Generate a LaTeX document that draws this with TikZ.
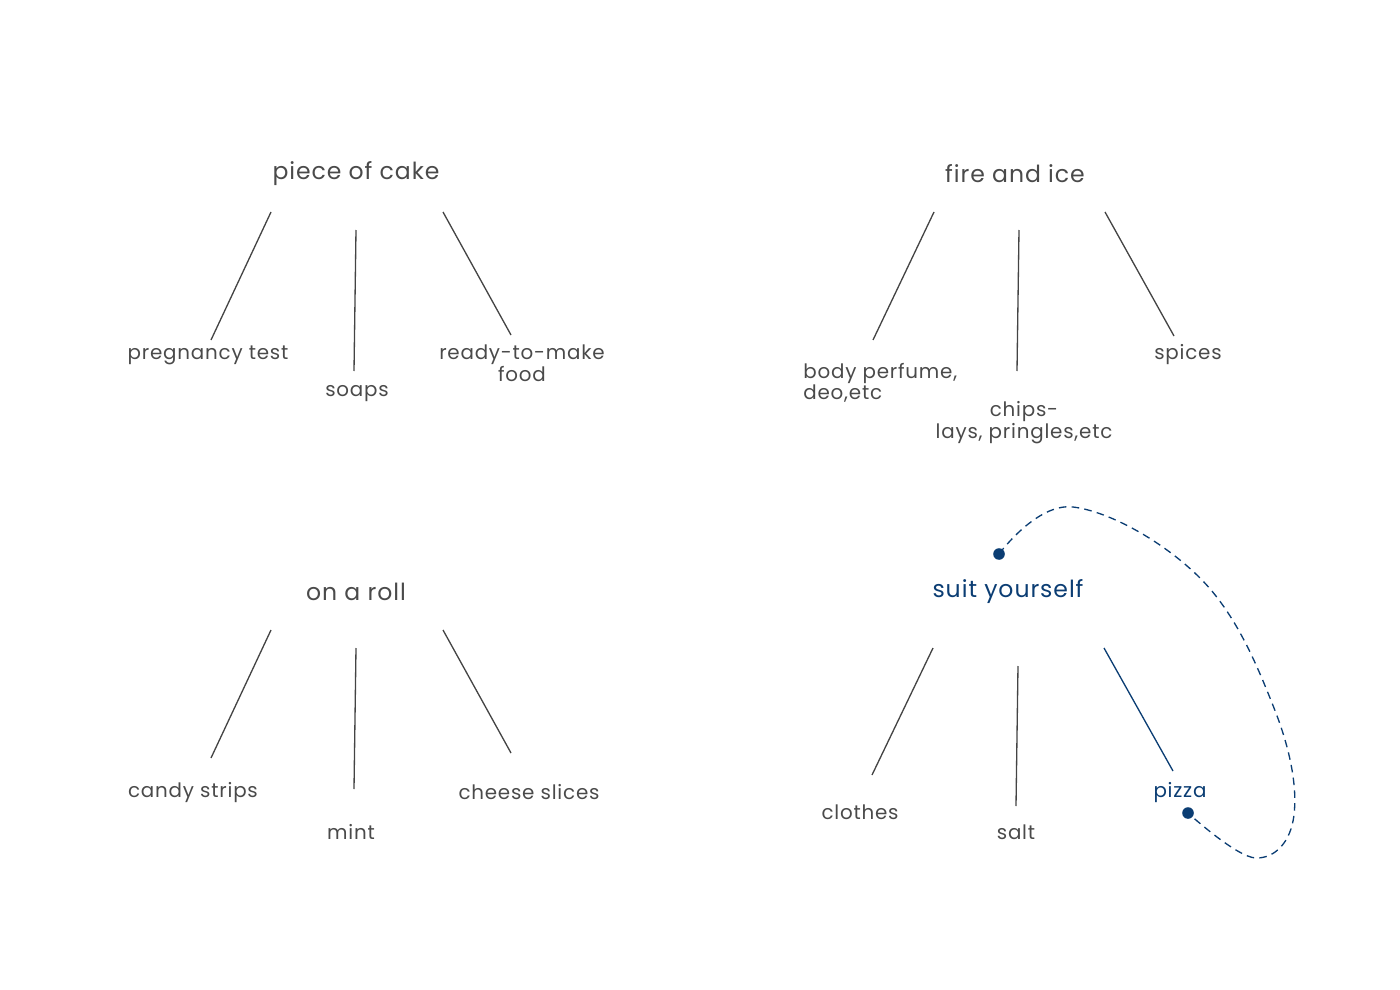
\documentclass[tikz,border=0pt]{standalone}
\usepackage{fontspec}
\setmainfont{Poppins}[LetterSpace=4]
\begin{document}
\begin{tikzpicture}[x=0.02cm,y=-0.02cm,
  title/.style={text=txtgray,font=\fontsize{13.4}{15}\selectfont,inner sep=0pt},
  lbl/.style={text=txtgray,font=\fontsize{11.3}{11.2}\selectfont,inner sep=0pt,align=center},
  bluetitle/.style={title,text=navy},
  bluelbl/.style={lbl,text=navy},
  link/.style={draw=linegray,line width=0.75pt},
  bluelink/.style={draw=navy,line width=0.75pt},
  dot/.style={circle,fill=navy,inner sep=0pt,minimum size=6.6pt},
  loop/.style={draw=navy,line width=0.75pt,dash pattern=on 4.3pt off 3pt}]
\definecolor{txtgray}{HTML}{4A4A4A}
\definecolor{linegray}{HTML}{444444}
\definecolor{navy}{HTML}{0B3D73}
\useasboundingbox (0,0) rectangle (1400,990);
% ---- group 1
\node[title] (t1) at (356,174) {piece of cake};
\coordinate (a1) at (271,212); \coordinate (a2) at (211,340);
\coordinate (b1) at (356,230); \coordinate (b2) at (354,371);
\coordinate (c1) at (443,212); \coordinate (c2) at (511,335);
\draw[link] (a1) -- (a2); \draw[link] (b1) -- (b2); \draw[link] (c1) -- (c2);
\node[lbl] (l11) at (208,355) {pregnancy test};
\node[lbl] (l12) at (357,394) {soaps};
\node[lbl] (l13) at (522,363) {ready-to-make\\food};
% ---- group 2
\node[title] (t2) at (1015,174) {fire and ice};
\coordinate (d1) at (934,212); \coordinate (d2) at (873,340);
\coordinate (e1) at (1019,230); \coordinate (e2) at (1017,371);
\coordinate (f1) at (1105,212); \coordinate (f2) at (1174,336);
\draw[link] (d1) -- (d2); \draw[link] (e1) -- (e2); \draw[link] (f1) -- (f2);
\node[lbl,align=left,anchor=west] (l21) at (803,383) {body perfume,\\deo,etc};
\node[lbl] (l22) at (1024,423) {chips-\\lays, pringles,etc};
\node[lbl] (l23) at (1188,355) {spices};
% ---- group 3
\node[title] (t3) at (356,592) {on a roll};
\coordinate (g1) at (271,630); \coordinate (g2) at (211,758);
\coordinate (h1) at (356,648); \coordinate (h2) at (354,789);
\coordinate (i1) at (443,630); \coordinate (i2) at (511,753);
\draw[link] (g1) -- (g2); \draw[link] (h1) -- (h2); \draw[link] (i1) -- (i2);
\node[lbl] (l31) at (193,793) {candy strips};
\node[lbl] (l32) at (351,832) {mint};
\node[lbl] (l33) at (529,792) {cheese slices};
% ---- group 4
\node[bluetitle] (t4) at (1008,592) {suit yourself};
\coordinate (j1) at (933,648); \coordinate (j2) at (872,775);
\coordinate (k1) at (1018,666); \coordinate (k2) at (1016,806);
\coordinate (m1) at (1104,648); \coordinate (m2) at (1173,771);
\draw[link] (j1) -- (j2); \draw[link] (k1) -- (k2); \draw[bluelink] (m1) -- (m2);
\node[lbl] (l41) at (860,812) {clothes};
\node[lbl] (l42) at (1016,832) {salt};
\node[bluelbl] (l43) at (1180,793) {pizza};
\node[dot] (p1) at (999,554) {};
\node[dot] (p2) at (1188,813) {};
\draw[loop] plot[smooth,tension=0.65] coordinates {(p1) (1073,507) (1200,578) (1274,708) (1294,815) (1256,858) (p2)};
\end{tikzpicture}
\end{document}
